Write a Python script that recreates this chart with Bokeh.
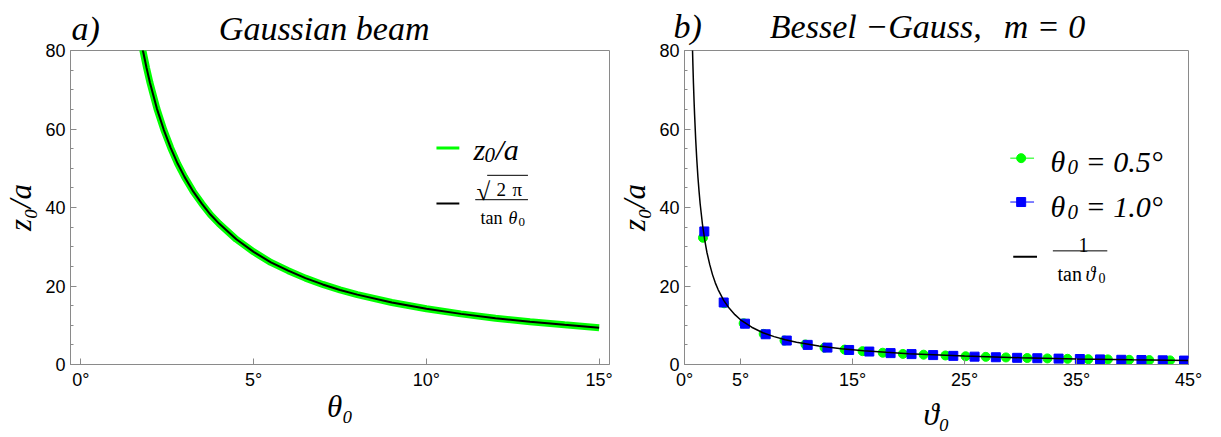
import math
from bokeh.plotting import figure
from bokeh.models import Label, FixedTicker, Range1d, Title
from bokeh.layouts import row
from bokeh.embed import file_html
from bokeh.resources import INLINE

# ---------------- data ----------------
# panel a) Gaussian beam, z0/a vs theta0 (degrees)
gauss_theta = [1.78, 1.8, 1.9, 2.0, 2.2, 2.4, 2.6, 2.8, 3.0, 3.25, 3.5, 3.75, 4.0, 4.5,
               5.0, 5.5, 6.0, 6.5, 7.0, 7.5, 8.0, 9.0, 10.0, 11.0, 12.0, 13.0, 14.0, 15.0]
gauss_z = [80.7, 79.8, 75.6, 71.8, 65.2, 59.8, 55.2, 51.2, 47.8, 44.1, 41.0, 38.2, 35.9, 31.9,
           28.7, 26.0, 23.9, 22.0, 20.4, 19.0, 17.8, 15.8, 14.2, 12.9, 11.8, 10.9, 10.1, 9.35]

# panel b) Bessel-Gauss, m = 0 : reference curve 1/tan
bg_theta = [0.70, 0.75, 0.8, 0.85, 0.9, 1.0, 1.1, 1.2, 1.3, 1.4, 1.6, 1.8, 2.0, 2.25, 2.5,
            2.75, 3.0, 3.5, 4.0, 4.5, 5.0, 6.0, 7.0, 8.0, 9.0, 10.0, 12.0, 14.0, 16.0,
            18.0, 20.0, 25.0, 30.0, 35.0, 40.0, 45.0]
bg_z = [81.9, 76.4, 71.6, 67.4, 63.7, 57.3, 52.1, 47.7, 44.1, 40.9, 35.8, 31.8, 28.6, 25.5, 22.9,
        20.8, 19.1, 16.35, 14.3, 12.7, 11.4, 9.5, 8.1, 7.1, 6.3, 5.67, 4.7, 4.0, 3.5,
        3.1, 2.75, 2.14, 1.73, 1.43, 1.19, 1.0]

# theta0 = 0.5 deg (green circles)
g_theta = [1.65, 3.54, 5.28, 7.07, 8.93, 10.8, 12.5, 14.3, 15.9, 17.7, 19.5, 21.35,
           23.3, 25.1, 26.9, 28.7, 30.6, 32.4, 34.2, 36.05, 37.8, 39.7, 41.5, 43.35]
g_z = [32.3, 15.6, 10.5, 7.8, 6.1, 5.1, 4.3, 3.8, 3.4, 3.0, 2.7, 2.5,
       2.3, 2.1, 1.95, 1.8, 1.65, 1.55, 1.45, 1.35, 1.3, 1.2, 1.12, 1.05]

# theta0 = 1.0 deg (blue squares)
b_theta = [1.77, 3.5, 5.4, 7.25, 9.13, 11.0, 12.76, 14.7, 16.5, 18.4, 20.27, 22.2,
           24.0, 25.9, 27.8, 29.7, 31.5, 33.4, 35.3, 37.1, 39.0, 40.8, 42.7, 44.6]
b_z = [33.9, 15.8, 10.4, 7.7, 6.1, 5.0, 4.3, 3.7, 3.3, 2.9, 2.65, 2.4,
       2.2, 2.0, 1.85, 1.7, 1.6, 1.5, 1.4, 1.3, 1.2, 1.15, 1.07, 1.0]

x1_ticks = [0, 5, 10, 15]
x2_ticks = [0, 5, 15, 25, 35, 45]
y_ticks = [0, 20, 40, 60, 80]
y_minor = [5, 10, 15, 25, 30, 35, 45, 50, 55, 65, 70, 75]

GREEN = "#00ff00"
BLUE = "#0000ff"
FRAME = "#8a8a8a"
SERIF = "Liberation Serif"
SANS = "Liberation Sans"
EM = "\u2003"
EN = "\u2002"
THIN = "\u2009"

# ---------------- layout geometry (page pixels; bokeh's page has no body margin) ----------------
FIG_H = 436
F1 = dict(left=67, right=609, top=46, bottom=368, x0=-0.3, x1=15.3)
F2 = dict(left=679, right=1188, top=49, bottom=364, x0=0.0, x1=45.0)


def conv(F):
    def c(px, py):
        x = F["x0"] + (px - F["left"]) / (F["right"] - F["left"]) * (F["x1"] - F["x0"])
        y = (F["bottom"] - py) / (F["bottom"] - F["top"]) * 80.0
        return x, y
    return c


def make_fig(F, fig_left, fig_width, xticks, xlabel, xlabel_standoff,
             title, title_offset, title_standoff):
    p = figure(width=fig_width, height=FIG_H, x_range=Range1d(F["x0"], F["x1"]),
               y_range=Range1d(0, 80),
               output_backend="svg", toolbar_location=None, title=None,
               min_border_left=F["left"] - fig_left,
               min_border_right=fig_left + fig_width - F["right"],
               min_border_top=F["top"],
               min_border_bottom=FIG_H - F["bottom"])
    p.background_fill_color = "white"
    p.border_fill_color = "white"
    p.outline_line_color = FRAME
    p.outline_line_width = 1
    p.xgrid.visible = False
    p.ygrid.visible = False
    p.xaxis.ticker = FixedTicker(ticks=xticks, minor_ticks=[])
    p.xaxis.major_label_overrides = {t: f"{t}°" for t in xticks}
    p.yaxis.ticker = FixedTicker(ticks=y_ticks, minor_ticks=y_minor)
    for ax in (p.xaxis[0], p.yaxis[0]):
        ax.axis_line_color = FRAME
        ax.major_tick_line_color = FRAME
        ax.minor_tick_line_color = FRAME
        ax.major_tick_in = 6
        ax.major_tick_out = 0
        ax.minor_tick_in = 3
        ax.minor_tick_out = 0
        ax.major_label_text_font = SANS
        ax.major_label_text_font_size = "18px"
        ax.major_label_text_color = "black"
        ax.major_label_standoff = 5
        ax.axis_label_text_font = SERIF
        ax.axis_label_text_font_style = "italic"
        ax.axis_label_text_font_size = "31px"
        ax.axis_label_text_color = "black"
    p.xaxis.axis_label = xlabel
    p.xaxis.axis_label_standoff = xlabel_standoff
    p.yaxis.axis_label = "z\u2080/a"
    p.yaxis.axis_label_standoff = 4
    p.add_layout(Title(text=title, text_font=SERIF, text_font_style="italic",
                       text_font_size="34px", text_color="black", align="left",
                       offset=title_offset, standoff=title_standoff), "above")
    return p


def txt(p, F, px, py, s, size, italic=True, font=SERIF, align="left"):
    # screen units, measured from the frame's bottom-left corner (inside the frame)
    p.add_layout(Label(x=px - F["left"], y=F["bottom"] - py, x_units="screen", y_units="screen",
                       text=s, text_font=font,
                       text_font_style="italic" if italic else "normal",
                       text_font_size=f"{size}px", text_baseline="alphabetic",
                       text_align=align, text_color="black"))


def seg(p, c, px0, py0, px1, py1, color="black", width=1.0):
    x0, y0 = c(px0, py0)
    x1, y1 = c(px1, py1)
    p.line([x0, x1], [y0, y1], line_color=color, line_width=width)


# ---------------- panel a ----------------
c1 = conv(F1)
p1 = make_fig(F1, 0, 614, x1_ticks, "\u03b8\u2080", -4,
              "a)" + EM * 3 + EN + "Gaussian beam", 1, 8)
p1.line(gauss_theta, gauss_z, line_color=GREEN, line_width=7)
p1.line(gauss_theta, gauss_z, line_color="black", line_width=2)

# legend
seg(p1, c1, 435, 146, 458, 146, GREEN, 3)
txt(p1, F1, 470, 153, "z", 30)
txt(p1, F1, 481, 158, "0", 21)
txt(p1, F1, 492, 153, "/a", 30)
seg(p1, c1, 435, 203, 458, 203, "black", 2)
txt(p1, F1, 473, 195, "√", 25, italic=False)
seg(p1, c1, 486, 174, 527, 174, "black", 1)
txt(p1, F1, 493, 193, "2", 19, italic=False)
txt(p1, F1, 509, 193, "π", 19, italic=False)
seg(p1, c1, 474, 199, 527, 199, "black", 1)
txt(p1, F1, 477, 221, "tan", 18, italic=False)
txt(p1, F1, 505, 221, "θ", 18)
txt(p1, F1, 515, 225, "0", 13, italic=False)

# ---------------- panel b ----------------
c2 = conv(F2)
p2 = make_fig(F2, 614, 606, x2_ticks, "\u03d1\u2080", 4,
              "b)" + EM * 2 + "Bessel −Gauss," + " " + THIN + THIN + "m = 0", -11, 11)
p2.scatter(g_theta, g_z, marker="circle", size=9, fill_color=GREEN, line_color=GREEN)
p2.scatter(b_theta, b_z, marker="square", size=9, fill_color=BLUE, line_color=BLUE)
p2.line(bg_theta, bg_z, line_color="black", line_width=1.5)

# legend
seg(p2, c2, 1008, 157, 1032, 157, GREEN, 1)
gx, gy = c2(1019, 157)
p2.scatter([gx], [gy], marker="circle", size=9, fill_color=GREEN, line_color=GREEN)
txt(p2, F2, 1045, 161, "θ", 30)
txt(p2, F2, 1062, 166, "0", 21)
txt(p2, F2, 1080, 161, "= 0.5°", 30)
seg(p2, c2, 1008, 201, 1032, 201, BLUE, 1)
bx, by = c2(1019, 201)
p2.scatter([bx], [by], marker="square", size=9, fill_color=BLUE, line_color=BLUE)
txt(p2, F2, 1045, 206, "θ", 30)
txt(p2, F2, 1062, 211, "0", 21)
txt(p2, F2, 1080, 206, "= 1.0°", 30)
seg(p2, c2, 1011, 256, 1035, 256, "black", 2)
txt(p2, F2, 1078, 244, "1", 20, italic=False, align="center")
seg(p2, c2, 1051, 250, 1106, 250, "black", 1)
txt(p2, F2, 1052, 273, "tan", 20, italic=False)
txt(p2, F2, 1080, 273, "ϑ", 20)
txt(p2, F2, 1093, 277, "0", 14, italic=False)

layout = row(p1, p2)
open("out.html", "w").write(file_html(layout, INLINE))
